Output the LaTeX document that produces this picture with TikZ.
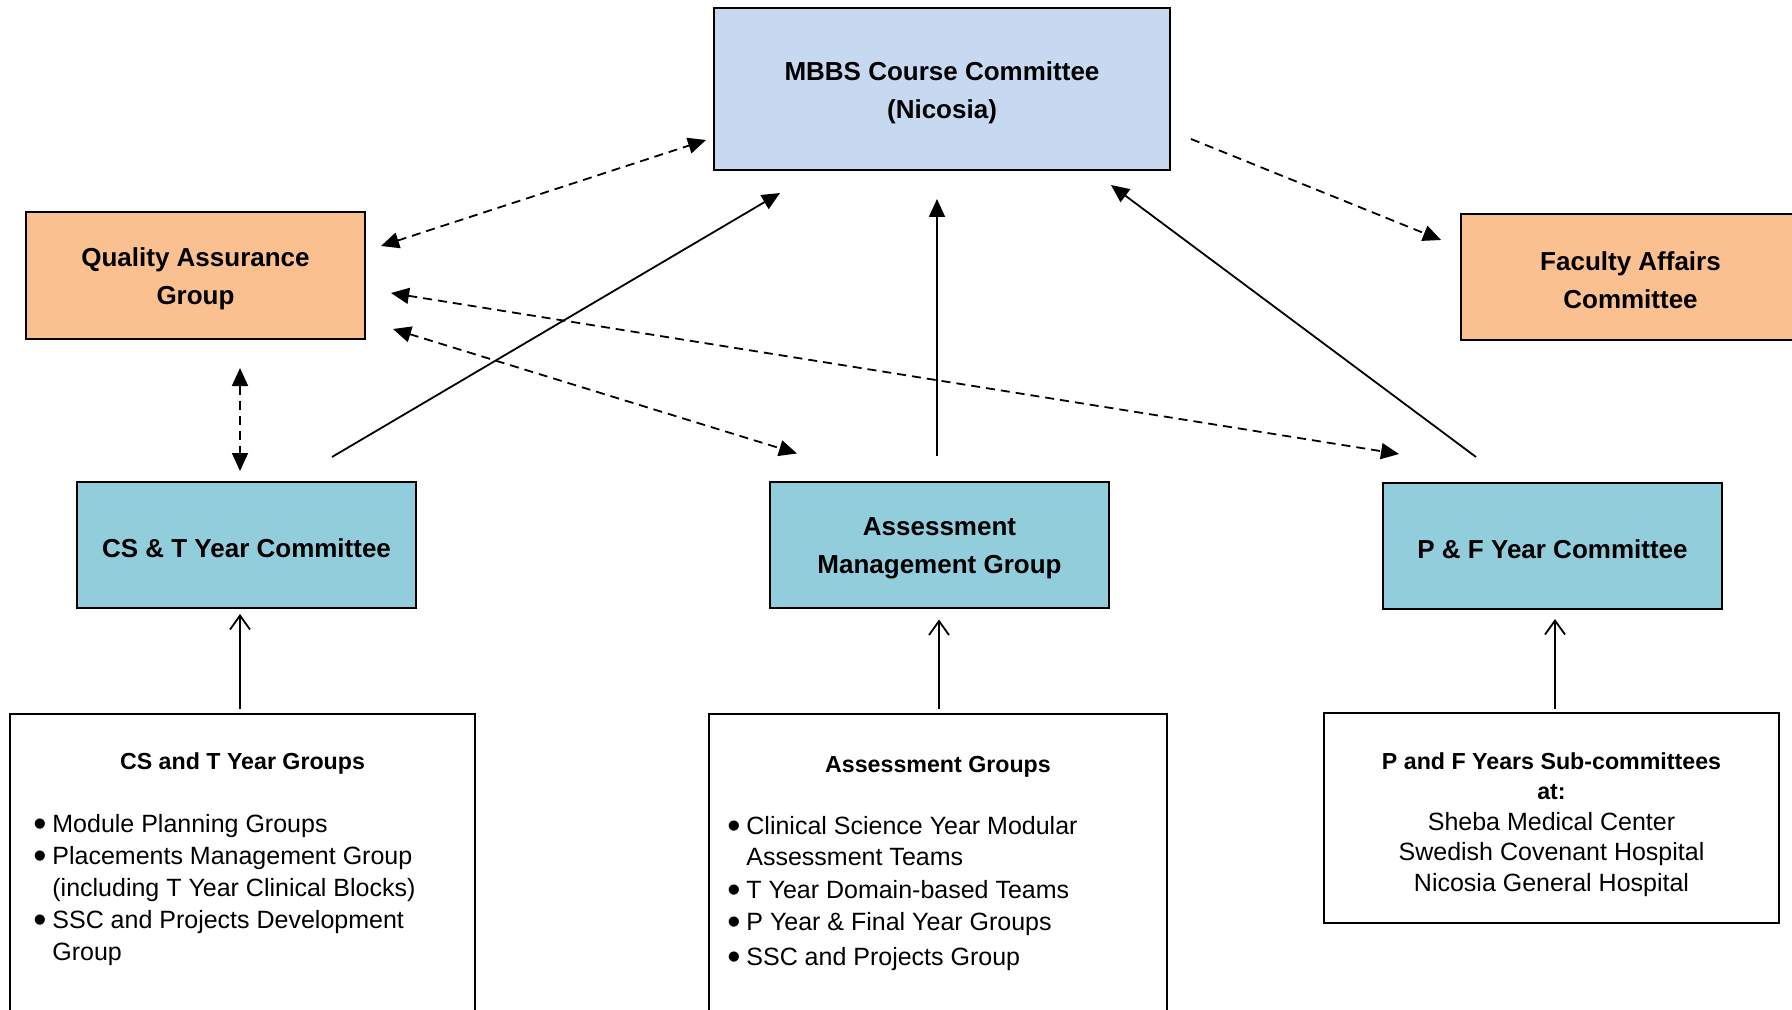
\documentclass[tikz,border=0pt]{standalone}
\usepackage{fontspec}
\usepackage{graphicx}
\setmainfont{Liberation Sans}
\usetikzlibrary{arrows.meta}
\definecolor{mbblue}{HTML}{C6D9F1}
\definecolor{qaorange}{HTML}{FAC090}
\definecolor{ctaqua}{HTML}{92CDDC}
\newcommand{\bul}{\makebox[9.5pt][l]{\raisebox{-1.8pt}{\scalebox{1.5}{\textbullet}}}}
\newcommand{\nob}{\makebox[9.5pt][l]{}}
\newcommand{\lift}{\rule{0pt}{13pt}}
\newcommand{\hdr}[1]{{\bfseries\fontsize{11.6}{15.25}\selectfont #1}}
\begin{document}
\begin{tikzpicture}[x=0.5pt,y=-0.5pt,
		cmt/.style={draw,line width=1pt,minimum width=169.5pt,minimum height=63pt,inner sep=0pt,align=center,font=\fontsize{13}{19}\selectfont\bfseries},
		grp/.style={draw,line width=0.65pt,minimum width=#1,inner sep=0pt},
		hd/.style={inner sep=0pt,align=center,anchor=base,font=\fontsize{11.6}{15.25}\selectfont\bfseries},
		lst/.style={inner sep=0pt,align=left,anchor=north west,font=\fontsize{12.5}{16}\selectfont},
		ln/.style={line width=0.9pt,-{Triangle[length=9pt,width=8pt]}},
		dl/.style={ln,dash pattern=on 4.5pt off 3pt},
		dd/.style={dl,{Triangle[length=9pt,width=8pt]}-{Triangle[length=9pt,width=8pt]}},
		opn/.style={line width=0.9pt,-{Straight Barb[length=7pt,width=10pt]}}]
	\useasboundingbox (0,0) rectangle (1792,1010);
	% committees
	\node[cmt,fill=mbblue,minimum width=228pt,minimum height=81pt] (mbbs) at (942,89) {\lift MBBS Course Committee\\(Nicosia)};
	\node[cmt,fill=qaorange,minimum height=63.5pt] (qa) at (195.5,275.5) {\lift Quality Assurance\\Group};
	\node[cmt,fill=qaorange] (fac) at (1630.5,277) {\lift Faculty Affairs\\Committee};
	\node[cmt,fill=ctaqua] (cst) at (246.5,545) {\lift CS \& T Year Committee};
	\node[cmt,fill=ctaqua] (amg) at (939.5,544.5) {\lift Assessment\\Management Group};
	\node[cmt,fill=ctaqua] (pf) at (1552.5,546) {\lift P \& F Year Committee};
	% groups
	\node[grp=232.5pt,minimum height=158pt] (csg) at (242.5,872) {};
	\node[grp=229pt,minimum height=158pt] (asg) at (938,872) {};
	\node[grp=227.5pt,minimum height=105pt] (pfs) at (1551.5,818) {};
	\node[hd] (csgh) at (242.5,769) {CS and T Year Groups};
	\node[lst] (csgl) at (33,814) {\bul Module Planning Groups\\\bul Placements Management Group\\\nob(including T Year Clinical Blocks)\\\bul SSC and Projects Development\\\nob Group};
	\node[hd] (asgh) at (938,772) {Assessment Groups};
	\node[lst,font=\fontsize{12.5}{15.5}\selectfont] (asgl) at (727,816) {\bul Clinical Science Year Modular\\\nob Assessment Teams\\[1pt]\bul T Year Domain-based Teams\\[0.5pt]\bul P Year \& Final Year Groups\\[2pt]\bul SSC and Projects Group};
	\node[inner sep=0pt,align=center,anchor=north,font=\fontsize{12.5}{15.25}\selectfont] (pfsl) at (1551.5,752) {\hdr{P and F Years Sub-committees}\\\hdr{at:}\\Sheba Medical Center\\Swedish Covenant Hospital\\Nicosia General Hospital};
	% arrow ends
	\path ([shift={(15,-29.5)}]qa.east) coordinate (q1)
		([shift={(-7,-31)}]mbbs.south west) coordinate (m1)
		([shift={(20,-32)}]mbbs.south east) coordinate (m2)
		([shift={(-19,-37)}]fac.west) coordinate (f1)
		([shift={(85.5,-24)}]cst.north) coordinate (c1)
		([shift={(67,22)}]mbbs.south west) coordinate (m3)
		([shift={(-2.5,-25)}]amg.north) coordinate (a1)
		([shift={(-5,28)}]mbbs.south) coordinate (m4)
		([shift={(-76.5,-25)}]pf.north) coordinate (p1)
		([shift={(-60,14)}]mbbs.south east) coordinate (m5)
		([shift={(27,-11)}]qa.south east) coordinate (q2)
		([shift={(28,-27)}]amg.north west) coordinate (a2)
		([shift={(25,17.5)}]qa.east) coordinate (q3)
		([shift={(17,-28)}]pf.north west) coordinate (p2)
		([shift={(44.5,28)}]qa.south) coordinate (q4)
		([shift={(-6.5,-10)}]cst.north) coordinate (c2)
		([shift={(-2.5,-4)}]csg.north) coordinate (g1)
		([shift={(-6.5,5)}]cst.south) coordinate (c3)
		([shift={(1,-4)}]asg.north) coordinate (g2)
		([shift={(-0.5,11)}]amg.south) coordinate (a3)
		([shift={(3.5,-3)}]pfs.north) coordinate (g3)
		([shift={(2.5,9)}]pf.south) coordinate (p3);
	\foreach \s/\e in {c1/m3,a1/m4,p1/m5} \draw[ln] (\s)--(\e);
	\draw[dl] (m2)--(f1);
	\foreach \s/\e in {q1/m1,q2/a2,q3/p2,q4/c2} \draw[dd] (\s)--(\e);
	\foreach \s/\e in {g1/c3,g2/a3,g3/p3} \draw[opn] (\s)--(\e);
\end{tikzpicture}
\end{document}
